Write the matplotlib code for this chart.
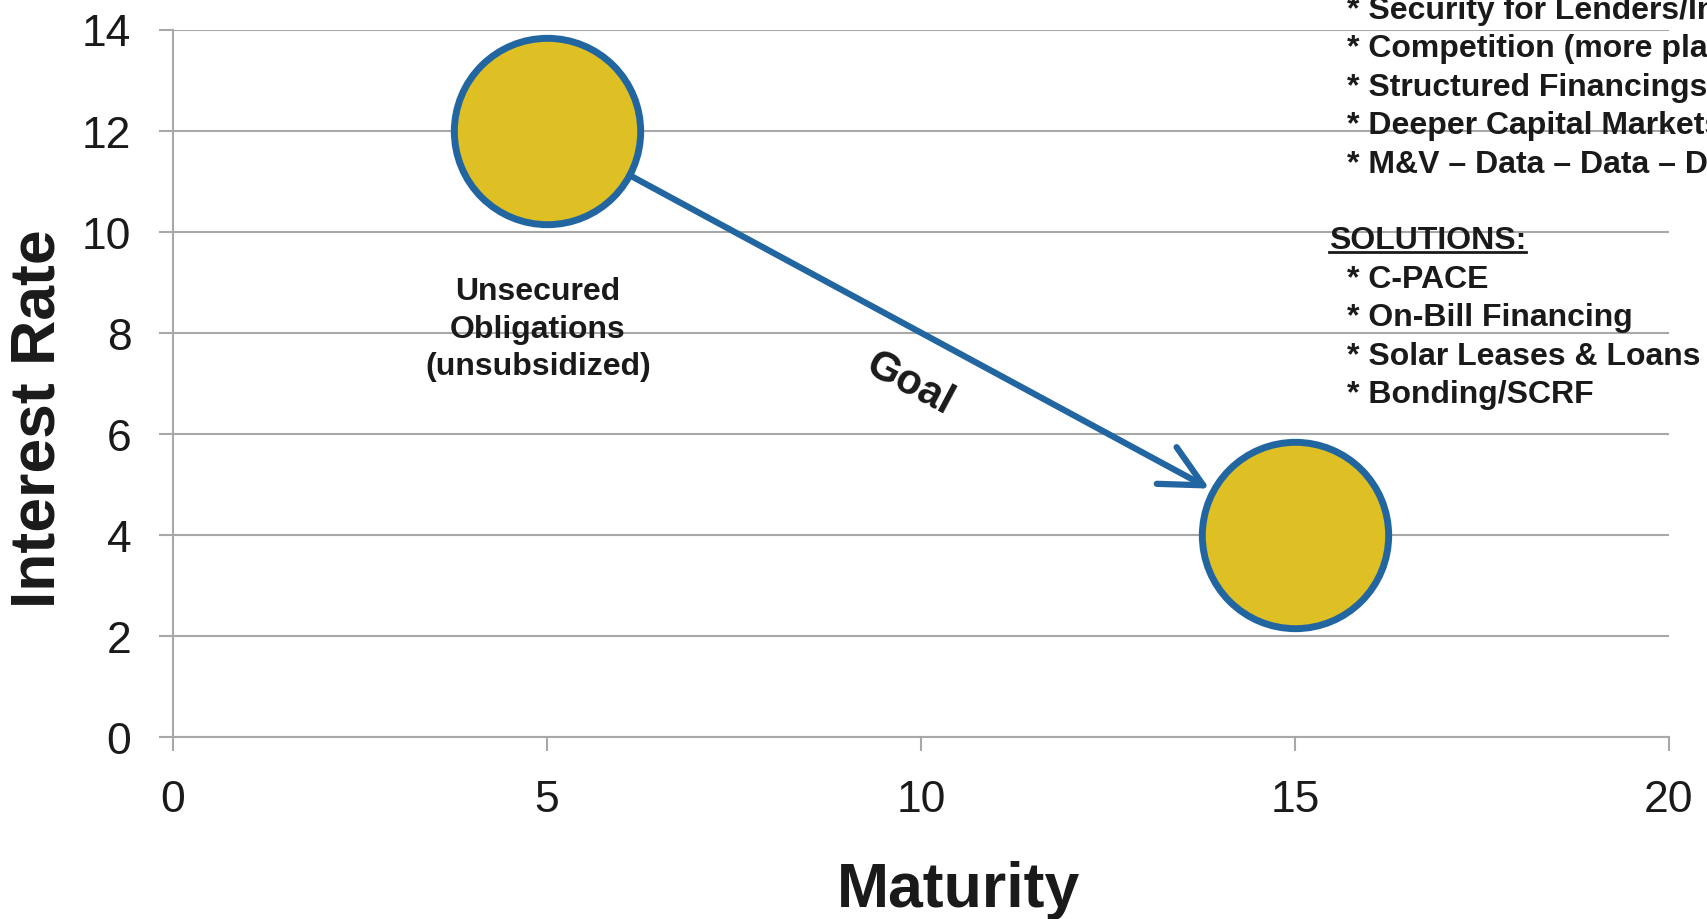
import matplotlib.pyplot as plt
from matplotlib.lines import Line2D

plt.rcParams["font.family"] = ["Liberation Sans", "DejaVu Sans"]

# bubble positions (maturity, interest rate)
MATURITY = [5, 15]
RATE = [12, 4]

X_TICKS = [0, 5, 10, 15, 20]
Y_TICKS = [0, 2, 4, 6, 8, 10, 12, 14]

START_LABEL = "Unsecured\nObligations\n(unsubsidized)"
ARROW_LABEL = "Goal"

CHALLENGES = [
    "* Security for Lenders/Investors",
    "* Competition (more players)",
    "* Structured Financings",
    "* Deeper Capital Markets",
    "* M&V \u2013 Data \u2013 Data \u2013 Data",
]
SOLUTIONS_HEADER = "SOLUTIONS:"
SOLUTIONS = [
    "* C-PACE",
    "* On-Bill Financing",
    "* Solar Leases & Loans",
    "* Bonding/SCRF",
]

TEXT = "#1a1a1a"
GRID = "#a8a8a8"
FILL = "#dfc024"
EDGE = "#2266a1"

W, H = 1707, 920
fig = plt.figure(figsize=(W / 100, H / 100), dpi=100)
ax = fig.add_axes([173 / W, 1 - 738 / H, 1496 / W, 707.5 / H])

ax.set_xlim(0, 20)
ax.set_ylim(0, 14)
ax.set_xticks(X_TICKS)
ax.set_yticks(Y_TICKS)
ax.grid(axis="y", color=GRID, linewidth=1.5)
ax.set_axisbelow(True)
for side in ("top", "right"):
    ax.spines[side].set_visible(False)
for side in ("left", "bottom"):
    ax.spines[side].set_color(GRID)
    ax.spines[side].set_linewidth(1.5)
ax.tick_params(axis="both", length=10, width=1.5, color=GRID,
               labelsize=32, labelcolor=TEXT)
ax.tick_params(axis="x", pad=20)
ax.tick_params(axis="y", pad=20)

ax.set_xlabel("Maturity", fontsize=45, fontweight="bold", color=TEXT, va="center")
ax.xaxis.set_label_coords(0.525, -0.215)
ax.set_ylabel("Interest Rate", fontsize=45, fontweight="bold", color=TEXT, va="center")
ax.yaxis.set_label_coords(-0.090, 0.451)

ax.scatter(MATURITY, RATE, s=18000, color=FILL, edgecolor=EDGE,
           linewidth=5, zorder=3, clip_on=False)

ax.annotate("", xy=(MATURITY[1], RATE[1]), xytext=(MATURITY[0], RATE[0]),
            arrowprops=dict(arrowstyle="->,head_length=1.0,head_width=0.5",
                            color=EDGE, lw=4.5, shrinkA=69, shrinkB=70,
                            mutation_scale=30, capstyle="round",
                            joinstyle="round"),
            zorder=4)
ax.text(9.85, 7.0, ARROW_LABEL, fontsize=30, fontweight="bold", color=TEXT,
        rotation=-28, ha="center", va="center")

ax.text(4.88, 8.08, START_LABEL, fontsize=23, fontweight="bold", color=TEXT,
        ha="center", va="center", linespacing=1.33)

# side notes, one line per row, placed in figure pixels
step = 38.4
x_item = 1347 / W
x_head = 1329 / W
y = 7.5
for line in CHALLENGES:
    fig.text(x_item, 1 - y / H, line, fontsize=23, fontweight="bold",
             color=TEXT, ha="left", va="center_baseline")
    y += step
y += step
head = fig.text(x_head, 1 - y / H, SOLUTIONS_HEADER, fontsize=23,
                fontweight="bold", color=TEXT, ha="left", va="center_baseline")
y += step
for line in SOLUTIONS:
    fig.text(x_item, 1 - y / H, line, fontsize=23, fontweight="bold",
             color=TEXT, ha="left", va="center_baseline")
    y += step

# underline the header
fig.canvas.draw()
bb = head.get_window_extent().transformed(fig.transFigure.inverted())
fig.add_artist(Line2D([bb.x0, bb.x1], [bb.y0 + 0.004, bb.y0 + 0.004],
                      color=TEXT, linewidth=2))

fig.savefig("out.png", dpi=100)
